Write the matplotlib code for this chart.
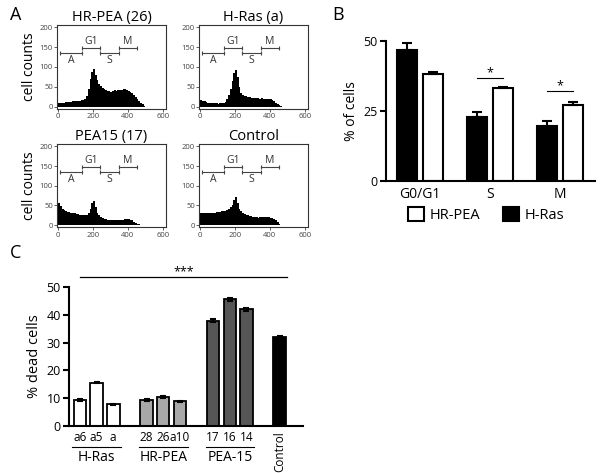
import numpy as np
import matplotlib
matplotlib.use('Agg')
import matplotlib.pyplot as plt
from matplotlib.patches import Patch
from matplotlib.transforms import blended_transform_factory

plt.rcParams['font.family'] = ['Open Sans', 'DejaVu Sans']

# ---------------- Panel A data (DNA content histograms) ----------------
hist_titles = ['HR-PEA (26)', 'H-Ras (a)', 'PEA15 (17)', 'Control']
bin_edges = list(range(0, 510, 10))
hrpea26 = [8, 9, 10, 10, 11, 11, 12, 12, 13, 13, 14, 14, 15, 16, 17,
           20, 28, 45, 70, 88, 95, 80, 68, 58, 52, 48, 45, 42, 40, 40,
           38, 40, 41, 40, 42, 42, 43, 44, 44, 42, 40, 38, 35, 30, 25,
           20, 15, 10, 6, 2]
hras_a = [16, 14, 13, 12, 10, 10, 9, 8, 8, 8, 7, 8, 8, 9, 12,
          18, 30, 45, 65, 85, 92, 75, 50, 35, 30, 28, 26, 25, 24, 22,
          23, 22, 21, 22, 20, 21, 20, 19, 20, 18, 18, 16, 14, 10, 6,
          3, 1, 0, 0, 0]
pea15_17 = [55, 48, 42, 38, 36, 34, 33, 32, 31, 30, 29, 28, 27, 26, 26,
            25, 26, 30, 40, 55, 62, 45, 32, 25, 20, 18, 16, 15, 14, 13,
            13, 12, 12, 12, 13, 12, 13, 14, 15, 16, 16, 14, 12, 9, 6,
            4, 2, 1, 0, 0]
control_hist = [30, 32, 30, 31, 30, 30, 31, 32, 32, 33, 33, 34, 35, 36, 37,
                39, 42, 45, 52, 65, 72, 55, 40, 35, 32, 28, 27, 25, 24, 22,
                21, 20, 20, 19, 20, 21, 20, 20, 21, 20, 19, 18, 15, 12, 8,
                4, 1, 0, 0, 0]
gate_names = ['A', 'G1', 'S', 'M']
gate_start = [10, 137, 240, 350]
gate_end = [137, 240, 350, 450]
gate_level = [135, 147, 135, 147]
hist_xticks = [0, 200, 400, 600]
hist_yticks = [0, 50, 100, 150, 200]

# ---------------- Panel B data ----------------
phases = ['G0/G1', 'S', 'M']
hras_pct = [46.8, 23.0, 19.8]
hras_err = [2.6, 1.5, 1.7]
hrpea_pct = [38.3, 33.1, 27.1]
hrpea_err = [0.7, 0.3, 1.2]
b_yticks = [0, 25, 50]

# ---------------- Panel C data ----------------
clone_labels = ['a6', 'a5', 'a', '28', '26', 'a10', '17', '16', '14', 'Control']
clone_groups = ['H-Ras'] * 3 + ['HR-PEA'] * 3 + ['PEA-15'] * 3 + ['Control']
dead_pct = [9.3, 15.5, 7.8, 9.3, 10.4, 8.8, 37.9, 45.6, 42.0, 31.9]
dead_err = [0.3, 0.2, 0.2, 0.4, 0.3, 0.3, 0.5, 0.5, 0.5, 0.4]
group_colors = {'H-Ras': 'white', 'HR-PEA': '#a8a8a8', 'PEA-15': '#565656', 'Control': 'black'}
c_yticks = [0, 10, 20, 30, 40, 50]

W, H = 600, 473
fig = plt.figure(figsize=(6, 4.73), dpi=100)


def px_axes(l, t, r, b):
    return fig.add_axes([l / W, 1 - b / H, (r - l) / W, (b - t) / H])


# ---------------- Panel A ----------------
hist_data = [hrpea26, hras_a, pea15_17, control_hist]
boxes = [(57, 25, 166, 109), (199, 25, 308, 109),
         (57, 144, 166, 227.5), (199, 144, 308, 227.5)]
for i, (title, vals, box) in enumerate(zip(hist_titles, hist_data, boxes)):
    ax = px_axes(*box)
    ax.stairs(vals, bin_edges, fill=True, color='black', baseline=0)
    ax.set_xlim(-7.5, 619)
    ax.set_ylim(-6, 206)
    ax.set_xticks(hist_xticks)
    ax.set_yticks(hist_yticks)
    ax.tick_params(labelsize=5.5, length=2, width=0.6, pad=1, colors='#444444')
    for sp in ax.spines.values():
        sp.set_linewidth(0.8)
        sp.set_color('#333333')
    ax.set_title(title, fontsize=10.5, pad=3)
    for name, s, e, lvl in zip(gate_names, gate_start, gate_end, gate_level):
        ax.plot([s, e], [lvl, lvl], color='#444444', lw=0.8,
                marker='|', markersize=3, markeredgewidth=0.8)
        if lvl > 140:
            ax.text((s + e) / 2, lvl + 3, name, ha='center', va='bottom',
                    fontsize=7.5, color='#333333')
        else:
            ax.text((s + e) / 2, lvl - 4, name, ha='center', va='top',
                    fontsize=7.5, color='#333333')
    if i % 2 == 0:
        ax.set_ylabel('cell counts', fontsize=10, labelpad=2)

fig.text(10 / W, 1 - 15 / H, 'A', fontsize=13, va='center', ha='left')
fig.text(332 / W, 1 - 15 / H, 'B', fontsize=13, va='center', ha='left')
fig.text(10 / W, 1 - 253 / H, 'C', fontsize=13, va='center', ha='left')

# ---------------- Panel B ----------------
axb = px_axes(386, 41, 595, 181)
xb = np.arange(len(phases))
off, bw = 0.186, 0.286
axb.bar(xb - off, hras_pct, bw, color='black', edgecolor='black', linewidth=1.5, zorder=2)
axb.bar(xb + off, hrpea_pct, bw, color='white', edgecolor='black', linewidth=1.5, zorder=2)
axb.errorbar(xb - off, hras_pct, yerr=[np.zeros(3), hras_err], fmt='none',
             ecolor='black', elinewidth=1.5, capsize=3.5, capthick=1.5, zorder=3)
axb.errorbar(xb + off, hrpea_pct, yerr=[np.zeros(3), hrpea_err], fmt='none',
             ecolor='black', elinewidth=1.5, capsize=3.5, capthick=1.5, zorder=3)
axb.set_xlim(-0.486, 2.5)
axb.set_ylim(0, 50)
axb.set_yticks(b_yticks)
axb.set_xticks(xb, phases)
axb.spines['top'].set_visible(False)
axb.spines['right'].set_visible(False)
axb.spines['left'].set_linewidth(1.5)
axb.spines['bottom'].set_linewidth(1.5)
axb.tick_params(axis='y', labelsize=9, length=4, width=1.5, pad=2)
axb.tick_params(axis='x', labelsize=10, length=0, pad=4)
axb.set_ylabel('% of cells', fontsize=10, labelpad=3)
for gi, ysig in [(1, 36.8), (2, 32.1)]:
    axb.plot([gi - off, gi + off], [ysig, ysig], color='black', lw=0.8)
    axb.text(gi, ysig + 2.0, '*', ha='center', va='center', fontsize=9)

fig.legend(handles=[Patch(facecolor='white', edgecolor='black', linewidth=1.5),
                    Patch(facecolor='black', edgecolor='black', linewidth=1.5)],
           labels=['HR-PEA', 'H-Ras'], ncol=2, loc='center',
           bbox_to_anchor=(486 / W, 1 - 215 / H), frameon=False, fontsize=10.5,
           handlelength=1.1, handleheight=1.05, handletextpad=0.35,
           columnspacing=1.6, borderpad=0)

# ---------------- Panel C ----------------
axc = px_axes(69, 287.3, 303, 425.7)
pos = []
p = 0
for k, g in enumerate(clone_groups):
    if k > 0:
        p += 1 if g == clone_groups[k - 1] else 2
    pos.append(p)
pos = np.array(pos, dtype=float)
colors = [group_colors[g] for g in clone_groups]
axc.bar(pos, dead_pct, 0.75, color=colors, edgecolor='black', linewidth=1.3, zorder=2)
axc.errorbar(pos, dead_pct, yerr=dead_err, fmt='none', ecolor='black',
             elinewidth=1.3, capsize=2.5, capthick=1.5, zorder=3)
axc.set_xlim(pos[0] - 0.66, pos[-1] + 1.4)
axc.set_ylim(0, 50)
axc.set_yticks(c_yticks)
axc.set_xticks(pos, clone_labels)
axc.spines['top'].set_visible(False)
axc.spines['right'].set_visible(False)
axc.spines['left'].set_linewidth(1.5)
axc.spines['bottom'].set_linewidth(1.5)
axc.tick_params(axis='y', labelsize=9, length=4, width=1.5, pad=2)
axc.tick_params(axis='x', labelsize=8.5, length=0, pad=4)
lbl = axc.get_xticklabels()[-1]
lbl.set_rotation(90)
lbl.set_va('top')
axc.set_ylabel('% dead cells', fontsize=10.5, labelpad=3)

trans = blended_transform_factory(axc.transData, axc.transAxes)
for g in ['H-Ras', 'HR-PEA', 'PEA-15']:
    gp = pos[[k for k, gg in enumerate(clone_groups) if gg == g]]
    axc.plot([gp[0] - 0.45, gp[-1] + 0.48], [-0.152, -0.152], color='black',
             lw=0.8, transform=trans, clip_on=False)
    axc.text(gp.mean(), -0.227, g, transform=trans, ha='center', va='center',
             fontsize=10)

axc.plot([pos[0], pos[-1] + 0.45], [53.7, 53.7], color='black', lw=0.9, clip_on=False)
axc.text((pos[0] + pos[-1] + 0.45) / 2, 55.6, '***', ha='center', va='center',
         fontsize=9)

fig.savefig('out.png', dpi=100)
